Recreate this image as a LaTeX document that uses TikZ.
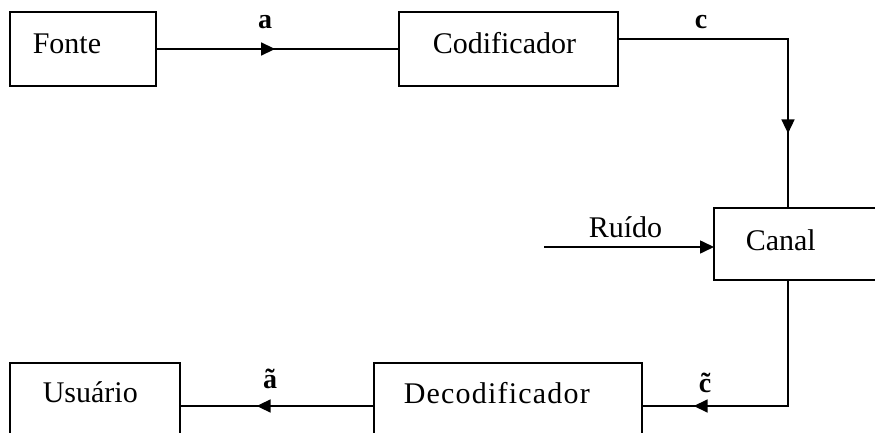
\documentclass[tikz,border=0pt]{standalone}
\usepackage{fontspec}
\setmainfont{Liberation Serif}
\usetikzlibrary{arrows.meta,decorations.markings}
\begin{document}
\begin{tikzpicture}[x=1pt,y=-1pt, line width=1.6pt,
 box/.style={draw, rectangle, inner sep=0pt, outer sep=0pt, anchor=north west},
 txt/.style={anchor=base west, inner sep=0pt, font=\fontsize{30}{36}\selectfont},
 lbl/.style={anchor=base, inner sep=0pt, font=\fontsize{28}{34}\selectfont\bfseries},
 tip/.style={-{Triangle[length=14pt,width=13pt]}},
 midarrow/.style={postaction={decorate}, decoration={markings, mark=at position #1 with {\arrow{Triangle[length=14pt,width=13pt]}}}}]
\useasboundingbox (0,0) rectangle (875,433);
% boxes
\node[box, minimum width=146pt, minimum height=74pt] (fonte) at (10,12) {};
\node[txt] (tfonte) at (32,54) {Fonte};
\node[box, minimum width=219pt, minimum height=74pt] (cod) at (399,12) {};
\node[txt] (tcod) at (432,54) {Codificador};
\node[box, minimum width=170pt, minimum height=72pt] (canal) at (714,208) {};
\node[txt] (tcanal) at (745,250) {Canal};
\node[box, minimum width=170pt, minimum height=80pt] (usu) at (10,363) {};
\node[txt] (tusu) at (42,402) {Usuário};
\node[box, minimum width=268pt, minimum height=80pt] (dec) at (374,363) {};
\node[txt] (tdec) at (403,403) {\addfontfeatures{LetterSpace=4}Decodificador};
% coordinates
\coordinate (cout) at ([yshift=10pt]cod.east);
\coordinate (cturn) at (788,39);
\coordinate (cturn2) at (788,406);
\coordinate (rstart) at (544,247);
% connectors
\draw[midarrow=0.49] (fonte.east) -- (cod.west);
\draw[midarrow=0.78] (cout) -- (cturn) -- (cturn |- canal.north);
\draw[tip] (rstart) -- (rstart -| canal.west);
\draw[midarrow=0.81] (cturn |- canal.south) -- (cturn2) -- (cturn2 -| dec.east);
\draw[midarrow=0.605] (cturn2 -| dec.west) -- (cturn2 -| usu.east);
% labels
\node[lbl] (la) at (265,29) {a};
\node[lbl] (lc) at (701,29) {c};
\node[lbl] (lat) at (270,388) {\~a};
\node[lbl] (lct) at (705,392) {\~c};
\node[txt] (truido) at (588,237) {Ruído};
\end{tikzpicture}
\end{document}
